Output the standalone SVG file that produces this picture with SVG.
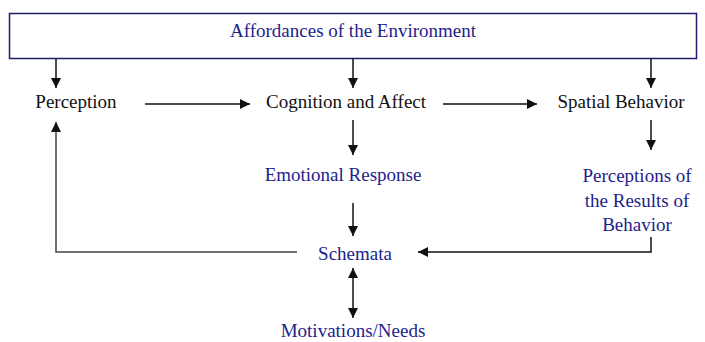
<svg xmlns="http://www.w3.org/2000/svg" width="705" height="342" viewBox="0 0 705 342">
<style>
text{font-family:"Liberation Serif","Times New Roman","DejaVu Serif",serif;font-size:19px;text-anchor:middle}
.b{fill:#1e1e8c}
.k{fill:#111}
.c{stroke:#111;stroke-width:1.5;fill:none}
.g{stroke:#444;stroke-width:1.5;fill:none}
</style>
<defs>
<marker id="ah" viewBox="0 0 10 10" refX="10" refY="5" markerWidth="10" markerHeight="10" markerUnits="userSpaceOnUse" orient="auto-start-reverse">
<path d="M0,0 L10,5 L0,10 z" fill="#111"/>
</marker>
</defs>
<rect width="705" height="342" fill="#fff"/>
<g id="affordances">
<rect x="9.5" y="13.5" width="687" height="45" fill="#fff" stroke="#1e1e6e" stroke-width="1.5"/>
<text class="b" x="353" y="37">Affordances of the Environment</text>
</g>
<g id="perception"><text class="k" x="76" y="108">Perception</text></g>
<g id="cognition"><text class="k" x="346" y="108">Cognition and Affect</text></g>
<g id="spatial"><text class="k" x="621" y="108">Spatial Behavior</text></g>
<g id="emotional"><text class="b" x="343" y="181">Emotional Response</text></g>
<g id="results">
<text class="b" x="637" y="182">Perceptions of</text>
<text class="b" x="637" y="207">the Results of</text>
<text class="b" x="637" y="231">Behavior</text>
</g>
<g id="schemata"><text class="b" x="355" y="260">Schemata</text></g>
<g id="motivations"><text class="b" x="353" y="337">Motivations/Needs</text></g>
<g id="connectors">
<line class="c" x1="56" y1="59" x2="56" y2="88" marker-end="url(#ah)"/>
<line class="c" x1="353" y1="59" x2="353" y2="88" marker-end="url(#ah)"/>
<line class="c" x1="651" y1="59" x2="651" y2="88" marker-end="url(#ah)"/>
<line class="c" x1="145" y1="104" x2="250" y2="104" marker-end="url(#ah)"/>
<line class="c" x1="443" y1="104" x2="537" y2="104" marker-end="url(#ah)"/>
<line class="c" x1="353" y1="120" x2="353" y2="155" marker-end="url(#ah)"/>
<line class="c" x1="651" y1="120" x2="651" y2="150" marker-end="url(#ah)"/>
<line class="c" x1="353" y1="203" x2="353" y2="236" marker-end="url(#ah)"/>
<polyline class="g" points="297,252 56,252 56,122" marker-end="url(#ah)"/>
<polyline class="c" points="651,237 651,252 418,252" marker-end="url(#ah)"/>
<line class="c" x1="353" y1="268" x2="353" y2="318" marker-start="url(#ah)" marker-end="url(#ah)"/>
</g>
</svg>
